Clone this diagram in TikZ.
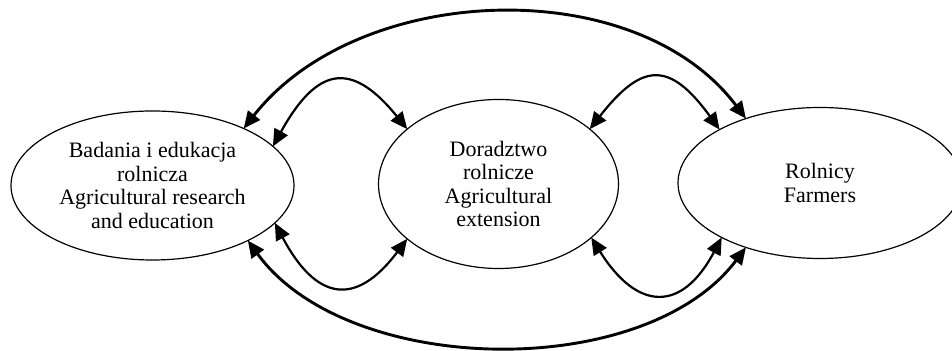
\documentclass[tikz,border=0pt]{standalone}
\usepackage{fontspec}
\setmainfont{Liberation Serif}
\usetikzlibrary{shapes.geometric,arrows.meta}
\begin{document}
\begin{tikzpicture}[x=0.5pt,y=0.5pt]
\tikzstyle{sector}=[ellipse,draw,line width=0.6pt,inner sep=0pt,outer sep=0pt,align=center,font=\fontsize{11}{11.8}\selectfont]
\tikzstyle{link}=[line width=1.1pt,{Triangle[length=8.5pt,width=7.5pt]}-{Triangle[length=8.5pt,width=7.5pt]}]
\tikzstyle{longlink}=[link,line width=1.45pt]

\useasboundingbox (0,0) rectangle (952,351);
\clip (0,0) rectangle (952,351);

\node[sector,minimum width=141.5pt,minimum height=74.5pt] (research) at (152.5,165.5) {Badania i edukacja\\rolnicza\\Agricultural research\\and education};
\node[sector,minimum width=120pt,minimum height=84.5pt] (extension) at (498.5,167) {Doradztwo\\rolnicze\\Agricultural\\extension};
\node[sector,minimum width=142pt,minimum height=75.5pt] (farmers) at (820,168) {Rolnicy\\Farmers};

\draw[longlink] (research.32) .. controls +(52:185) and +(127:185) .. (farmers.139);
\draw[link] (research.18) .. controls +(61:90) and +(129:90) .. (extension.149);
\draw[link] (extension.31) .. controls +(52:85) and +(126:85) .. (farmers.152);

\draw[link] (research.-17) .. controls +(-62:87) and +(-127:87) .. (extension.211);
\draw[link] (extension.-30) .. controls +(-58:86) and +(-118:86) .. (farmers.209);
\draw[longlink] (research.-30) .. controls +(-54:169) and +(-127:169) .. (farmers.221);

\end{tikzpicture}
\end{document}
